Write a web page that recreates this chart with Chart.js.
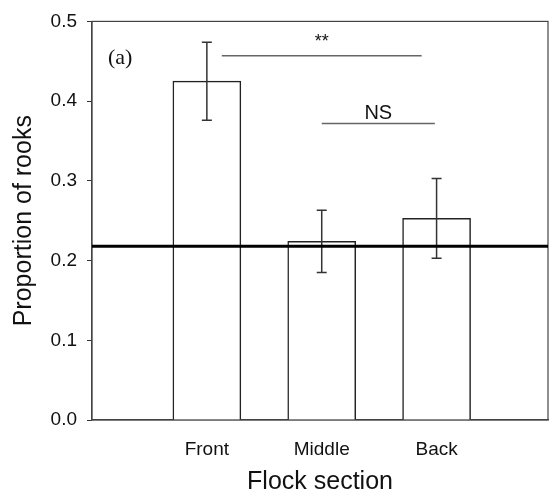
<!DOCTYPE html>
<html>
<head>
<meta charset="utf-8">
<title>Proportion of rooks by flock section</title>
<script src="https://cdn.jsdelivr.net/npm/chart.js@4"></script>
<style>
    body { margin: 0; background: #fff; }
    #wrap { width: 549px; height: 502px; }
</style>
</head>
<body>
<div id="wrap"><canvas id="chart" width="549" height="502"></canvas></div>
<script>
// Data
const sections = ['Front', 'Middle', 'Back'];
const sectionPos = [1, 2, 3];
const proportions = [0.425, 0.224, 0.253];
const stdErrors = [0.049, 0.039, 0.050];
const yTickValues = [0.0, 0.1, 0.2, 0.3, 0.4, 0.5];

// Expected proportion (thick horizontal line)
const expectedProportion = 0.218;

// Significance brackets
const sigLabels = ['**', 'NS'];
const sigFrom = [1.13, 2.0];
const sigTo = [2.87, 2.985];
const sigLevel = [0.457, 0.372];

const panelLabel = '(a)';

const FONT = 'Arial, "Liberation Sans", sans-serif';

// Draws the frame, reference line, error bars and annotations
const extrasPlugin = {
    id: 'extras',
    beforeDatasetsDraw(chart) {
        const { ctx, chartArea: a } = chart;
        ctx.save();
        ctx.strokeStyle = '#444';
        ctx.lineWidth = 1.2;
        ctx.strokeRect(a.left, a.top, a.right - a.left, a.bottom - a.top);
        ctx.restore();
    },
    afterDatasetsDraw(chart) {
        const { ctx, chartArea: a, scales } = chart;
        const x = scales.x, y = scales.y;
        const bars = chart.getDatasetMeta(0).data;

        ctx.save();

        // error bars
        ctx.strokeStyle = '#333';
        ctx.lineWidth = 1.5;
        bars.forEach((bar, i) => {
            const top = y.getPixelForValue(proportions[i] + stdErrors[i]);
            const bot = y.getPixelForValue(proportions[i] - stdErrors[i]);
            ctx.beginPath();
            ctx.moveTo(bar.x, top);
            ctx.lineTo(bar.x, bot);
            ctx.moveTo(bar.x - 5, top);
            ctx.lineTo(bar.x + 5, top);
            ctx.moveTo(bar.x - 5, bot);
            ctx.lineTo(bar.x + 5, bot);
            ctx.stroke();
        });

        // expected proportion line
        const yRef = y.getPixelForValue(expectedProportion);
        ctx.strokeStyle = '#000';
        ctx.lineWidth = 3;
        ctx.beginPath();
        ctx.moveTo(a.left, yRef);
        ctx.lineTo(a.right, yRef);
        ctx.stroke();

        // significance brackets
        sigLabels.forEach((lab, i) => {
            const x0 = x.getPixelForValue(sigFrom[i]);
            const x1 = x.getPixelForValue(sigTo[i]);
            const yy = y.getPixelForValue(sigLevel[i]);
            ctx.strokeStyle = '#666';
            ctx.lineWidth = 1.5;
            ctx.beginPath();
            ctx.moveTo(x0, yy);
            ctx.lineTo(x1, yy);
            ctx.stroke();
            ctx.fillStyle = '#111';
            ctx.textAlign = 'center';
            ctx.textBaseline = 'alphabetic';
            ctx.font = (lab === 'NS' ? '20px ' : '18px ') + FONT;
            ctx.fillText(lab, (x0 + x1) / 2, lab === 'NS' ? yy - 4 : yy - 9);
        });

        // panel label
        ctx.fillStyle = '#111';
        ctx.textAlign = 'left';
        ctx.textBaseline = 'middle';
        ctx.font = '22px "Liberation Serif", "Times New Roman", serif';
        ctx.fillText(panelLabel, a.left + 16, a.top + 37);

        ctx.restore();
    }
};

const ctx = document.getElementById('chart').getContext('2d');
new Chart(ctx, {
    type: 'bar',
    data: {
        datasets: [{
            data: sections.map((s, i) => ({ x: sectionPos[i], y: proportions[i] })),
            backgroundColor: '#fff',
            borderColor: '#222',
            borderWidth: 1.5,
            borderSkipped: 'start',
            barThickness: 68,
        }]
    },
    options: {
        responsive: false,
        animation: false,
        layout: { padding: { top: 17, right: 1, left: 0, bottom: 0 } },
        plugins: {
            legend: { display: false },
            tooltip: { enabled: false }
        },
        scales: {
            x: {
                type: 'linear',
                offset: false,
                min: 0,
                max: 3.97,
                afterBuildTicks: (scale) => {
                    scale.ticks = sectionPos.map(v => ({ value: v }));
                },
                afterFit: (scale) => { scale.height = 82; },
                grid: { display: false, offset: false },
                border: { display: true, color: '#444', width: 1.2 },
                ticks: {
                    padding: 10,
                    color: '#111',
                    font: { family: FONT, size: 19 },
                    maxRotation: 0,
                    callback: (v) => sections[sectionPos.indexOf(v)] || ''
                },
                title: {
                    display: true,
                    text: 'Flock section',
                    color: '#111',
                    font: { family: FONT, size: 25 },
                    padding: { top: 0, bottom: 5 }
                }
            },
            y: {
                min: 0,
                max: 0.5,
                afterBuildTicks: (scale) => {
                    scale.ticks = yTickValues.map(v => ({ value: v }));
                },
                afterFit: (scale) => { scale.width = 92; },
                grid: { drawOnChartArea: false, tickLength: 5, color: '#333' },
                border: { display: true, color: '#444', width: 1.2 },
                ticks: {
                    padding: 10,
                    color: '#111',
                    font: { family: FONT, size: 19 },
                    callback: (v) => v.toFixed(1)
                },
                title: {
                    display: true,
                    text: 'Proportion of rooks',
                    color: '#111',
                    font: { family: FONT, size: 25 },
                    padding: { top: 9, bottom: 0 }
                }
            }
        }
    },
    plugins: [extrasPlugin]
});
</script>
</body>
</html>
